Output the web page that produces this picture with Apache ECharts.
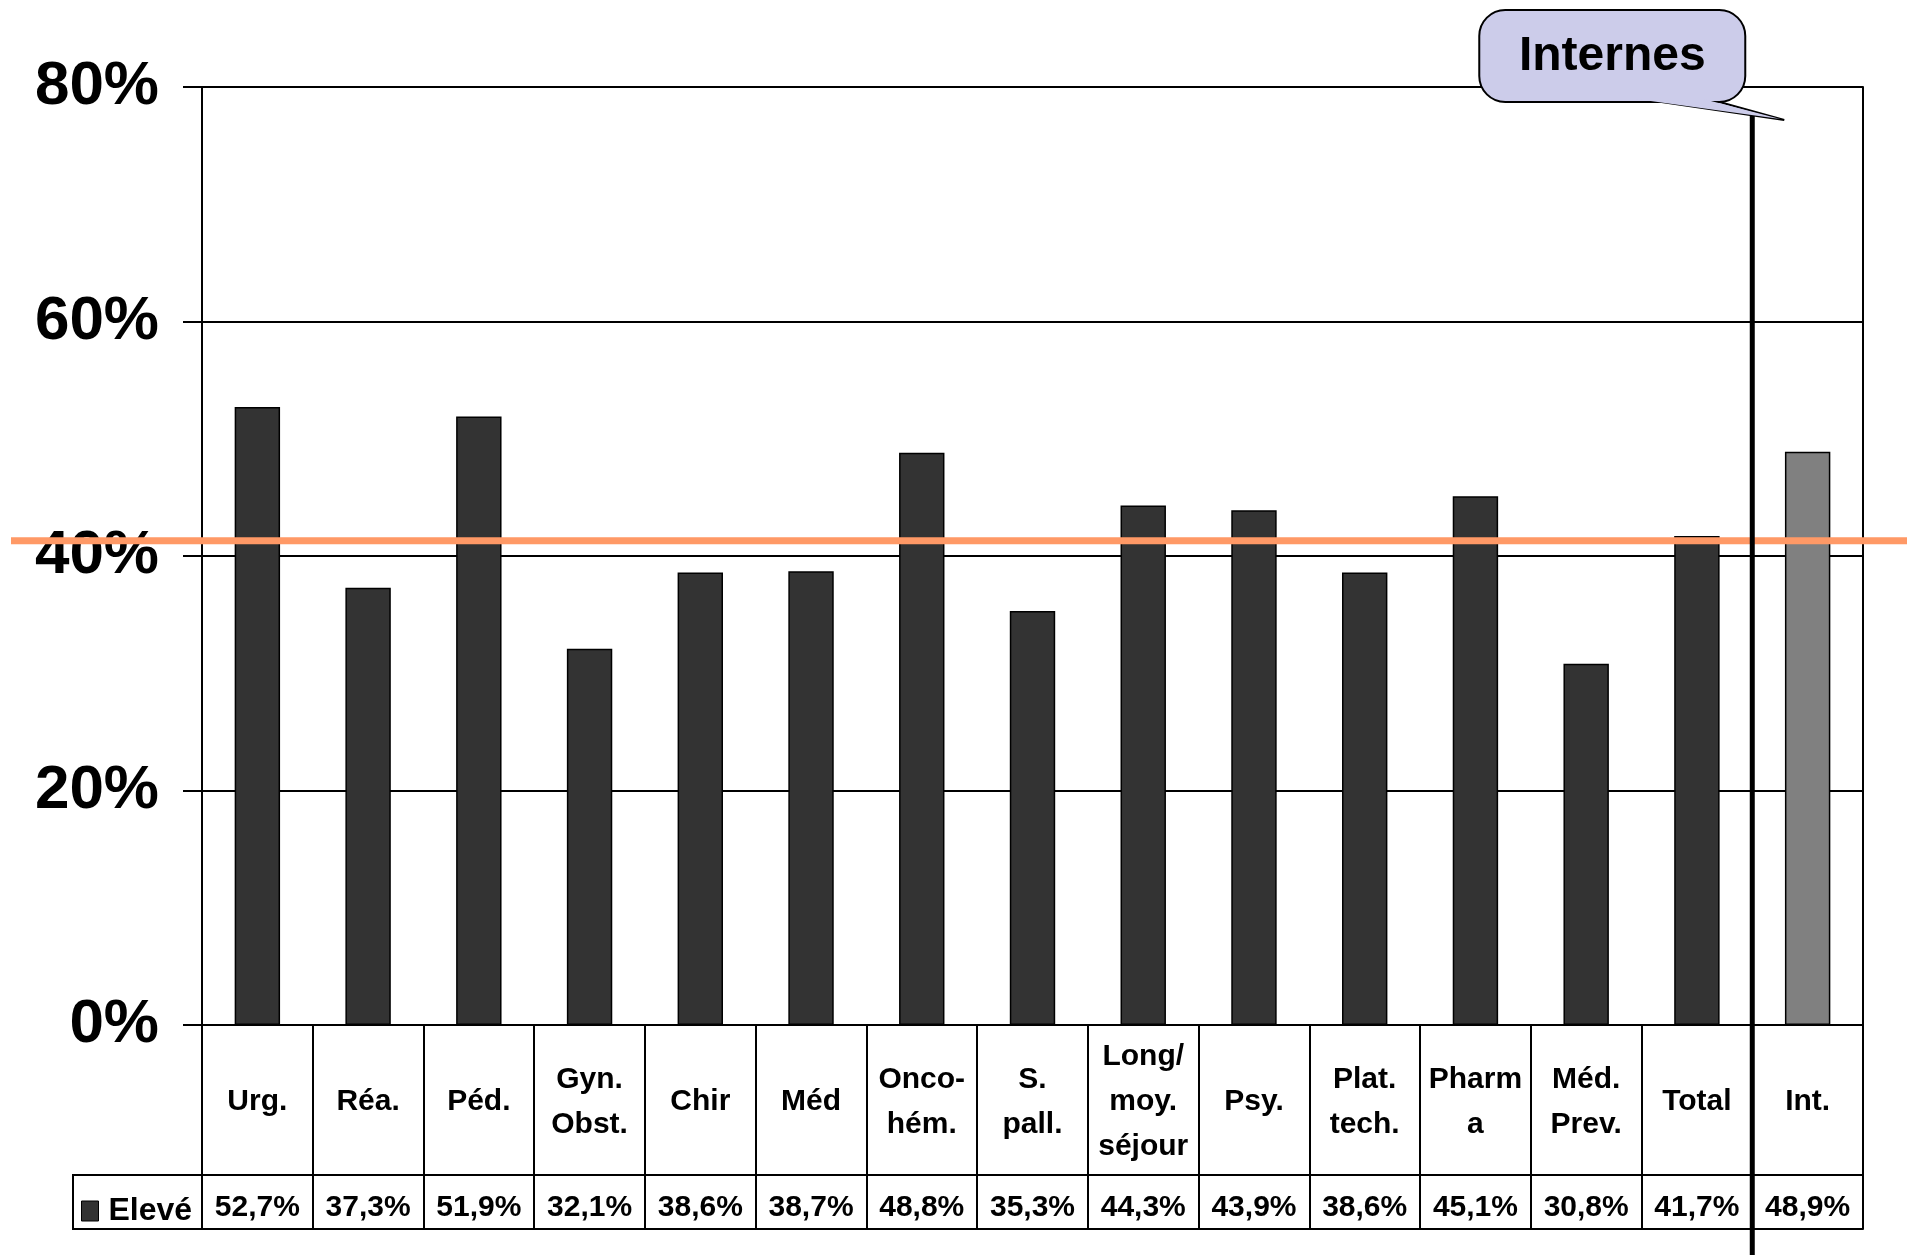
<!DOCTYPE html>
<html>
<head>
<meta charset="utf-8">
<script src="https://cdn.jsdelivr.net/npm/echarts@6/dist/echarts.min.js"></script>
<style>
html,body{margin:0;padding:0;background:#fff;}
#chart{width:1907px;height:1255px;}
</style>
</head>
<body>
<div id="chart"></div>
<script>
const categories = ['Urg.', 'Réa.', 'Péd.', 'Gyn.\nObst.', 'Chir', 'Méd', 'Onco-\nhém.', 'S.\npall.', 'Long/\nmoy.\nséjour', 'Psy.', 'Plat.\ntech.', 'Pharm\na', 'Méd.\nPrev.', 'Total', 'Int.'];
const eleveValues = [52.7, 37.3, 51.9, 32.1, 38.6, 38.7, 48.8, 35.3, 44.3, 43.9, 38.6, 45.1, 30.8, 41.7, 48.9];
const highlightCategory = 'Int.';
const yTicks = [0, 20, 40, 60, 80];
const referenceLine = 41.3;
const seriesName = 'Elevé';
const calloutText = 'Internes';

const fmt = v => v.toFixed(1).replace('.', ',') + '%';
const FONT = '"Liberation Sans", Arial, sans-serif';
const chart = echarts.init(document.getElementById('chart'), null, {renderer: 'canvas'});

const option = {
  animation: false,
  backgroundColor: '#fff',
  textStyle: {fontFamily: FONT},
  grid: {left: 202, right: 44, top: 87, bottom: 230, containLabel: false},
  legend: {
    data: [seriesName], left: 76, top: 1190, icon: 'rect', itemWidth: 17, itemHeight: 20, itemGap: 10,
    textStyle: {fontSize: 32, fontWeight: 'bold', color: '#000', fontFamily: FONT, padding: [0, 0, 0, 5]},
    itemStyle: {borderColor: '#000', borderWidth: 1}
  },
  xAxis: [
    {
      type: 'category', data: categories, boundaryGap: true, position: 'bottom',
      axisLine: {show: true, onZero: false, lineStyle: {color: '#000', width: 2}},
      axisTick: {show: true, length: 204, inside: false, lineStyle: {color: '#000', width: 2}},
      axisLabel: {interval: 0, margin: 77, verticalAlign: 'middle', fontSize: 30, fontWeight: 'bold', color: '#000', lineHeight: 45, fontFamily: FONT},
      splitLine: {show: false}
    },
    {
      type: 'category', data: categories, boundaryGap: true, position: 'bottom', offset: 150,
      axisLine: {show: true, onZero: false, lineStyle: {color: '#000', width: 2}},
      axisTick: {show: false},
      axisLabel: {interval: 0, margin: 33, verticalAlign: 'middle', fontSize: 30, fontWeight: 'bold', color: '#000', fontFamily: FONT,
        formatter: (v, i) => fmt(eleveValues[i])}
    },
    {
      type: 'category', data: categories, boundaryGap: true, position: 'bottom', offset: 204,
      axisLine: {show: true, onZero: false, lineStyle: {color: '#000', width: 2}},
      axisTick: {show: false}, axisLabel: {show: false}
    }
  ],
  yAxis: [
    {
      type: 'value', min: yTicks[0], max: yTicks[yTicks.length - 1], interval: yTicks[1] - yTicks[0],
      axisLine: {show: true, lineStyle: {color: '#000', width: 2}},
      axisTick: {show: true, length: 19, inside: false, lineStyle: {color: '#000', width: 2}},
      axisLabel: {formatter: '{value}%', margin: 43, fontSize: 62, fontWeight: 'bold', color: '#000', fontFamily: FONT},
      splitLine: {show: true, lineStyle: {color: '#000', width: 2}}
    },
    {
      type: 'value', position: 'right', min: yTicks[0], max: yTicks[yTicks.length - 1], interval: yTicks[1] - yTicks[0],
      axisLine: {show: true, lineStyle: {color: '#000', width: 2}},
      axisTick: {show: false}, axisLabel: {show: false}, splitLine: {show: false}
    }
  ],
  series: [{
    name: seriesName, type: 'bar', xAxisIndex: 0, yAxisIndex: 0, barWidth: '41%',
    itemStyle: {color: '#333333', borderColor: '#000', borderWidth: 1.5},
    data: eleveValues.map((v, i) => categories[i] === highlightCategory
      ? {value: v, itemStyle: {color: '#808080'}} : v)
  }]
};
chart.setOption(option);

// annotations placed from the axes' scales
const iTotal = categories.indexOf('Total');
const iInt = categories.indexOf(highlightCategory);
const xTotal = chart.convertToPixel({xAxisIndex: 0}, categories[iTotal]);
const xInt = chart.convertToPixel({xAxisIndex: 0}, categories[iInt]);
const xSep = (xTotal + xInt) / 2;
const yRef = chart.convertToPixel({yAxisIndex: 0}, referenceLine);
const yZero = chart.convertToPixel({yAxisIndex: 0}, 0);
const xLeft = chart.convertToPixel({xAxisIndex: 0}, categories[0]) - (xInt - xTotal) / 2;

chart.setOption({
  graphic: [
    {type: 'rect', z: 5, shape: {x: 73, y: yZero + 150, width: xLeft - 73, height: 54},
      style: {fill: 'none', stroke: '#000', lineWidth: 2}},
    {type: 'line', z: 20, shape: {x1: 11, y1: yRef, x2: 1907, y2: yRef},
      style: {stroke: '#ff9966', lineWidth: 7}},
    {type: 'line', z: 21, shape: {x1: xSep, y1: 115, x2: xSep, y2: 1255},
      style: {stroke: '#000', lineWidth: 5}},
    {type: 'polygon', z: 22, shape: {points: [[xSep - 118, 98], [xSep + 32, 120], [xSep - 47, 98]]},
      style: {fill: '#ccccea', stroke: '#000', lineWidth: 2}},
    {type: 'rect', z: 23, shape: {x: xSep - 273, y: 10, width: 266, height: 92, r: 26},
      style: {fill: '#ccccea', stroke: '#000', lineWidth: 2}},
    {type: 'polygon', z: 24, shape: {points: [[xSep - 116, 99], [xSep + 28, 119], [xSep - 49, 99]]},
      style: {fill: '#ccccea', stroke: null}},
    {type: 'text', z: 25, style: {x: xSep - 140, y: 57, text: calloutText, fill: '#000',
      font: 'bold 48px "Liberation Sans", Arial', textAlign: 'center', textVerticalAlign: 'middle'}}
  ]
});
</script>
</body>
</html>
